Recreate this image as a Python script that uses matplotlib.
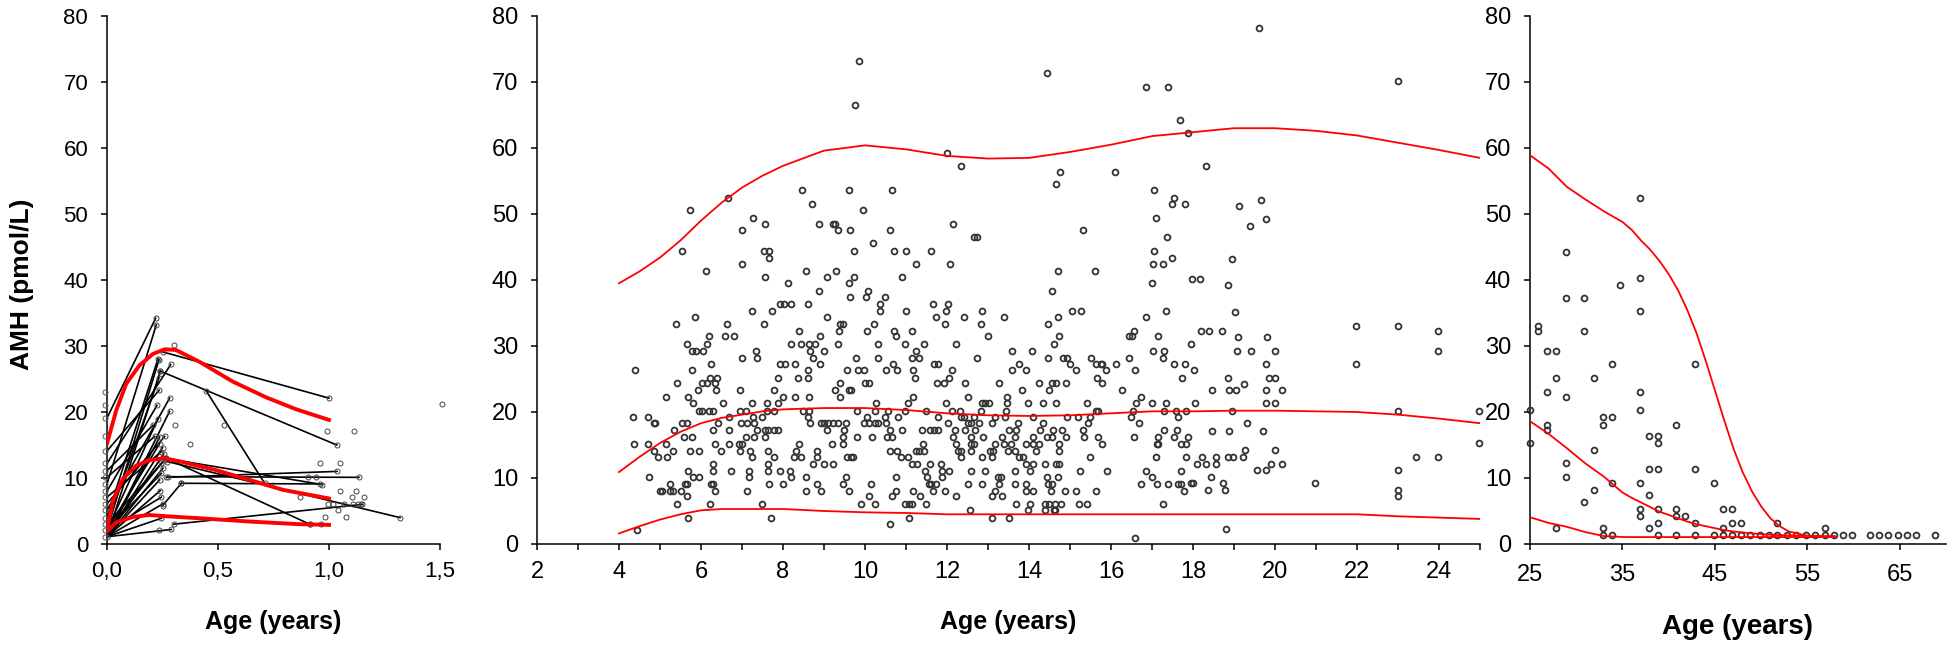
import matplotlib
matplotlib.use("Agg")
import matplotlib.pyplot as plt
from matplotlib import font_manager
from matplotlib.ticker import MultipleLocator, FixedLocator, FixedFormatter

# ---------------- data ----------------
# left panel: infants (0-1.5 y)
infant_col_amh = [1.1, 2.1, 3.0, 4.0, 5.1, 6.1, 7.1, 8.0, 9.1, 10.1, 11.1, 12.2,
                  14.1, 16.3, 19.1, 21.1, 23.1]

fan_y0 = [19.1, 9.1, 4.0, 2.1, 12.2, 1.1, 3.0, 5.1, 1.1, 11.1, 2.1, 10.1, 1.1, 6.1,
          2.1, 7.1, 1.1, 3.0, 1.1, 2.1, 1.1, 1.1, 2.1, 1.1, 1.1, 8.0, 14.1, 1.1, 2.1]
fan_x1 = [0.219, 0.222, 0.23, 0.234, 0.287, 0.24, 0.234, 0.282, 0.282, 0.207, 0.23,
          0.215, 0.237, 0.26, 0.237, 0.245, 0.255, 0.245, 0.252, 0.245, 0.237, 0.24,
          0.245, 0.252, 0.245, 0.225, 0.235, 0.25, 0.26]
fan_y1 = [34.2, 33.2, 28.1, 27.9, 27.2, 26.2, 25.2, 22.1, 20.1, 18.0, 19.0, 16.3, 16.2,
          16.3, 15.2, 14.0, 13.6, 12.2, 11.5, 10.7, 9.7, 8.1, 7.1, 6.1, 3.9, 21.0, 23.3,
          14.6, 12.8]

long_x0 = [0.252, 0.24, 0.447, 0.267, 0.27, 0.26, 0.275, 0.267, 0.335, 0.30, 0.25, 0.0]
long_y0 = [29.1, 26.2, 23.2, 13.0, 12.5, 13.0, 10.2, 10.1, 9.2, 3.0, 5.8, 1.1]
long_x1 = [1.0, 1.035, 0.71, 0.913, 1.32, 0.97, 1.135, 1.036, 0.958, 1.15, 0.335, 0.29]
long_y1 = [22.1, 15.0, 9.2, 3.0, 4.0, 9.0, 10.1, 11.0, 9.1, 6.0, 9.2, 2.2]

infant_age = [0.30, 0.305, 0.372, 0.525, 0.992, 1.113, 0.958, 1.05, 0.905, 0.943, 1.048,
              1.123, 0.868, 1.105, 1.158, 0.996, 1.018, 1.068, 1.108, 1.13, 1.146, 1.04,
              0.982, 1.078, 0.913, 0.962, 1.51, 0.234]
infant_amh = [30.2, 18.0, 15.1, 18.0, 17.1, 17.1, 12.2, 12.2, 10.2, 10.2, 8.1, 8.1, 7.1,
              7.1, 7.1, 6.1, 6.1, 6.1, 6.1, 6.1, 6.1, 5.2, 4.1, 4.1, 3.1, 3.1, 21.2, 2.1]

infant_curve_age = [0.0, 0.042, 0.087, 0.147, 0.207, 0.26, 0.31, 0.417, 0.567, 0.718, 0.853, 1.0]
infant_hi = [15.2, 20.3, 24.3, 27.1, 28.8, 29.5, 29.4, 27.6, 24.6, 22.2, 20.4, 18.8]
infant_mid_age = [0.0, 0.027, 0.072, 0.132, 0.192, 0.26, 0.342, 0.49, 0.643, 0.793, 1.0]
infant_mid = [2.1, 6.6, 9.9, 11.9, 12.7, 13.0, 12.4, 11.2, 9.7, 8.2, 6.9]
infant_lo_age = [0.0, 0.042, 0.117, 0.19, 0.267, 0.417, 0.643, 0.868, 1.0]
infant_lo = [1.9, 3.3, 4.1, 4.4, 4.2, 3.9, 3.4, 3.0, 2.9]

# middle panel: children (2-25 y), one AMH level per row with the ages at that level
child_levels = [78.2, 73.2, 71.3, 70.2, 69.3, 66.5, 64.2, 62.2, 59.3, 57.2, 56.3, 54.5,
                53.6, 52.5, 52.1, 51.5, 51.2, 50.6, 49.4, 49.2, 48.5, 48.2, 47.6, 46.5,
                45.6, 44.4, 43.4, 43.2, 42.5, 41.4, 40.4, 40.2, 39.5, 39.3, 38.4, 37.4,
                36.3, 35.3, 35.2, 34.4, 33.3, 33.1, 32.3, 31.5, 31.3, 30.3, 29.3, 29.2,
                28.2, 27.3, 27.2, 26.4, 26.3, 25.2, 24.4, 24.3, 23.3, 22.2, 21.3, 20.2,
                20.1, 19.2, 18.3, 17.2, 17.1, 16.2, 15.3, 15.2, 14.2, 14.1, 13.2, 12.1,
                11.2, 11.1, 10.2, 9.2, 9.1, 8.2, 8.1, 7.3, 7.2, 6.1, 5.1, 4.0, 3.1, 2.3,
                2.1, 0.9]
child_ages = [
    [19.60], [9.85], [14.45], [22.99], [16.85, 17.4], [9.75], [17.68], [17.88], [12.0],
    [12.35, 18.32], [14.75, 16.1], [14.67],
    [8.46, 9.60, 10.65, 17.06], [6.66, 17.54], [19.67], [8.70, 17.50, 17.80], [19.13],
    [5.72, 9.94], [7.27, 17.10], [19.78], [7.57, 8.87, 9.23, 9.26, 12.15], [19.38],
    [6.99, 9.34, 9.64, 10.61, 15.31], [12.65, 12.73, 17.37], [10.20],
    [5.54, 7.53, 7.67, 9.73, 10.71, 11.0, 11.61, 17.06], [7.67, 17.50], [18.96],
    [6.99, 11.24, 12.08, 17.02, 17.27], [6.12, 8.57, 9.30, 14.71, 15.61],
    [7.57, 9.07, 9.73, 10.90], [17.98, 18.16], [8.12, 9.60, 16.99], [18.86],
    [8.87, 10.08, 14.57], [9.64, 10.03, 10.48],
    [7.92, 8.02, 8.19, 8.60, 10.36, 11.65, 12.02],
    [7.24, 7.74, 10.37, 11.0, 11.98, 12.85, 15.04, 15.28, 17.33], [19.03],
    [5.85, 9.07, 11.72, 12.42, 13.38, 14.71, 16.85],
    [5.38, 6.63, 7.54, 9.40, 9.47, 10.21, 11.95, 12.82, 14.46], [21.97, 22.99],
    [8.40, 9.37, 10.04, 10.71, 11.15, 16.55, 23.97, 18.19, 18.38, 18.71],
    [6.19, 6.59, 6.80, 8.90, 10.75, 12.99, 14.73, 16.45, 16.51, 17.15], [19.10, 19.81],
    [5.65, 6.15, 8.19, 8.43, 8.63, 8.79, 9.34, 10.31, 10.98, 11.44, 12.22, 14.60, 17.94],
    [5.78, 5.89, 6.05, 7.33, 8.66, 9.0, 11.24, 13.59, 14.07, 17.02, 17.30],
    [19.07, 19.42, 19.99, 23.97],
    [6.99, 7.37, 8.74, 9.77, 10.31, 11.15, 11.31, 12.72, 14.46, 14.84, 14.93, 15.51,
     16.45, 17.26],
    [6.25, 7.92, 8.06, 8.29, 8.90, 10.68, 11.68, 11.78, 13.76, 15.01, 15.64, 15.75,
     15.78, 16.11, 17.53, 17.80],
    [19.78, 21.97],
    [4.40, 5.78, 8.60, 9.57, 9.84, 9.98, 10.51, 10.78, 11.18, 12.11, 13.59, 13.93, 15.14,
     15.88, 16.59],
    [18.02],
    [6.22, 6.39, 7.87, 8.36, 8.60, 11.21, 12.05, 15.67, 17.73, 18.86, 19.86, 19.99],
    [5.41, 6.02, 6.15, 6.33, 9.40, 10.0, 10.10, 11.75, 11.92, 12.45, 13.28, 14.24, 14.56,
     14.67, 14.90, 15.78],
    [19.24],
    [5.92, 6.36, 6.96, 7.77, 9.26, 9.60, 9.67, 13.83, 14.50, 16.28, 18.46, 18.89, 19.04,
     19.78, 20.18],
    [5.14, 5.68, 8.0, 8.29, 8.63, 9.40, 11.18, 12.52, 13.46, 16.72],
    [5.81, 6.53, 7.24, 7.60, 7.88, 10.28, 11.05, 11.98, 12.85, 12.92, 13.02, 13.46, 13.97,
     14.33, 14.67, 15.41, 16.62, 16.99, 17.33, 18.06, 19.78, 19.99],
    [5.95, 6.02, 6.19, 6.29, 6.96, 7.10, 7.60, 7.77, 8.49, 8.63, 9.81, 10.24, 10.57,
     10.98, 11.48, 12.11, 12.32, 12.82, 13.44, 15.64, 15.68, 16.53, 17.30, 17.59, 17.84],
    [18.96, 22.99, 24.97],
    [4.33, 4.71, 6.69, 7.27, 7.50, 8.60, 10.04, 10.50, 10.81, 11.78, 12.34, 12.42, 12.66,
     13.18, 13.42, 14.10, 14.93, 15.20, 15.48, 16.49, 17.63],
    [4.85, 4.89, 5.54, 5.65, 6.42, 6.97, 7.13, 7.30, 8.66, 8.93, 9.0, 9.10, 9.23, 9.34,
     9.54, 9.98, 10.10, 10.24, 10.31, 10.51, 12.02, 12.52, 12.59, 12.79, 13.09, 13.72,
     14.33, 15.45, 16.69, 19.31],
    [5.35, 6.29, 6.69, 7.37, 7.57, 7.63, 7.77, 7.87, 9.07, 9.50, 10.61, 10.91, 11.38,
     11.58, 11.68, 11.78, 12.19, 12.45, 12.68, 13.52, 13.69, 14.27, 14.58, 14.81, 15.31,
     17.30, 17.60],
    [18.46, 18.89, 19.70],
    [5.58, 5.78, 7.10, 7.30, 7.57, 9.47, 9.81, 10.17, 10.54, 10.65, 12.15, 12.58, 12.89,
     13.35, 13.66, 14.10, 14.44, 14.57, 14.90, 15.34, 15.68, 16.55, 17.15, 17.54, 17.87],
    [24.97],
    [4.37, 4.71, 5.15, 6.33, 6.69, 6.93, 7.0, 8.40, 9.20, 9.47, 11.41, 12.22, 12.58,
     12.65, 13.18, 13.38, 13.55, 13.93, 14.10, 14.24, 14.73, 15.78, 17.13, 17.15, 17.70,
     17.83],
    [19.28, 19.99],
    [4.85, 5.31, 5.72, 5.95, 6.49, 6.96, 7.20, 7.63, 8.32, 8.83, 10.61, 10.78, 11.24,
     11.31, 11.44, 12.28, 12.34, 12.58, 13.06, 13.13, 13.49, 13.66, 14.16, 14.73],
    [4.94, 5.18, 7.24, 7.77, 8.26, 8.43, 8.83, 9.57, 9.67, 9.70, 10.88, 11.05, 12.34,
     12.86, 13.09, 13.76, 13.86, 15.48, 17.10, 17.84, 18.23, 18.56, 18.86, 18.97, 19.21,
     23.43, 23.97],
    [6.29, 7.63, 8.74, 9.0, 9.23, 11.15, 11.27, 11.58, 11.85, 13.93, 14.10, 14.40, 14.67,
     14.73, 18.10, 18.32, 18.56, 19.91, 20.18],
    [19.56, 19.78, 22.99],
    [5.68, 6.29, 6.72, 7.16, 7.63, 7.92, 8.16, 11.46, 11.88, 12.05, 12.58, 12.92, 13.66,
     14.02, 15.24, 15.91, 16.85, 17.70],
    [4.74, 5.81, 5.95, 7.16, 8.19, 8.57, 9.54, 10.75, 11.52, 11.88, 13.25, 13.31, 14.44,
     14.70, 16.99, 18.43],
    [17.94, 18.0, 18.74, 20.97],
    [5.24, 5.62, 5.65, 6.25, 6.29, 7.67, 7.99, 8.83, 9.47, 10.14, 11.55, 11.62, 11.72,
     12.52, 12.85, 13.28, 13.66, 13.93, 14.46, 14.57, 16.72, 17.13, 17.40, 17.63, 17.70],
    [18.36, 18.78, 22.99],
    [5.0, 5.05, 5.24, 5.31, 5.51, 6.33, 7.13, 8.57, 8.93, 9.60, 10.75, 11.18, 11.65,
     11.95, 13.18, 13.93, 14.10, 14.53, 14.88, 15.14, 15.64, 17.77],
    [22.99],
    [5.65, 10.10, 10.65, 11.34, 12.22, 13.09, 13.35],
    [5.41, 6.22, 7.50, 9.90, 10.24, 10.98, 11.08, 11.15, 11.48, 13.69, 14.03, 14.40,
     14.50, 14.64, 14.77, 15.21, 15.41, 17.27],
    [12.55, 13.97, 14.40, 14.60, 14.64],
    [5.68, 7.71, 11.08, 13.09, 13.52],
    [10.61],
    [18.80],
    [4.44],
    [16.59],
]

child_curve_age = [4, 4.5, 5, 5.5, 6, 6.5, 7, 7.5, 8, 9, 10, 11, 12, 13, 14, 15, 16, 17,
                   18, 19, 20, 21, 22, 23, 24, 25]
child_hi = [39.5, 41.3, 43.4, 46.0, 49.0, 51.7, 54.0, 55.8, 57.3, 59.6, 60.4, 59.8, 58.8,
            58.4, 58.5, 59.4, 60.5, 61.8, 62.4, 63.0, 63.0, 62.6, 61.9, 60.8, 59.7, 58.5]
child_mid = [10.9, 13.2, 15.3, 17.0, 18.3, 19.1, 19.6, 20.1, 20.4, 20.6, 20.6, 20.3, 19.8,
             19.5, 19.4, 19.5, 19.8, 20.1, 20.1, 20.2, 20.2, 20.1, 20.0, 19.6, 19.0, 18.3]
child_lo = [1.6, 2.7, 3.7, 4.5, 5.1, 5.3, 5.3, 5.3, 5.3, 5.0, 4.8, 4.7, 4.5, 4.5, 4.5, 4.5,
            4.5, 4.5, 4.5, 4.5, 4.5, 4.5, 4.5, 4.2, 4.0, 3.8]

# right panel: adults (25-70 y)
adult_levels = [52.4, 44.2, 40.3, 39.2, 37.3, 35.3, 33.1, 32.3, 29.2, 27.3, 25.2, 23.1,
                22.3, 20.3, 19.2, 18.1, 17.3, 16.3, 15.3, 14.2, 12.3, 11.3, 10.2, 9.2,
                8.2, 7.4, 6.3, 5.3, 4.2, 3.2, 2.4, 1.3]
adult_ages = [
    [36.88], [28.93], [36.88], [34.76], [28.93, 30.89], [36.88], [25.90], [25.90, 30.89],
    [26.80, 27.86], [33.91, 42.88], [27.86, 31.90], [26.80, 36.88], [28.93],
    [24.95, 36.88], [32.85, 33.91], [32.85, 40.81, 26.80], [26.80], [37.84, 38.90],
    [38.90, 24.95], [31.90], [28.93], [37.84, 38.90, 42.88], [28.93],
    [33.91, 36.88, 44.89], [31.90], [37.84], [30.89],
    [36.88, 38.90, 40.81, 45.90, 46.80], [36.88, 40.81, 41.82],
    [38.90, 42.88, 46.80, 47.86, 51.74], [27.86, 32.85, 37.84, 45.90, 56.88],
    [32.85, 33.91, 38.90, 40.81, 42.88, 44.89, 45.90, 46.80, 47.86, 48.82, 49.88, 50.84,
     51.74, 52.80, 53.81, 54.81, 55.87, 56.88, 57.89, 58.89, 59.85, 61.81, 62.71, 63.77,
     64.78, 65.73, 66.74, 68.77],
]

adult_curve_age = [25, 27, 29, 31, 33, 35, 36, 37, 38, 39, 40, 41, 42, 43, 44, 45, 46, 47,
                   48, 49, 50, 51, 52, 53, 55, 57, 58]
adult_hi = [58.9, 56.9, 54.1, 52.2, 50.4, 48.8, 47.6, 46.0, 44.6, 42.9, 40.9, 38.5, 35.5,
            32.0, 27.8, 23.3, 18.8, 14.5, 10.9, 8.0, 5.7, 3.9, 2.7, 1.9, 1.25, 1.1, 1.1]
adult_mid = [18.6, 16.7, 14.5, 12.2, 10.2, 7.8, 7.0, 6.3, 5.6, 4.9, 4.4, 3.9, 3.4, 3.0,
             2.7, 2.4, 2.1, 1.9, 1.75, 1.6, 1.5, 1.4, 1.35, 1.3, 1.25, 1.2, 1.2]
adult_lo = [4.05, 3.2, 2.6, 1.8, 1.2, 1.06, 1.05, 1.05, 1.05, 1.05, 1.05, 1.05, 1.05,
            1.05, 1.05, 1.05, 1.05, 1.05, 1.05, 1.05, 1.05, 1.05, 1.05, 1.05, 1.05, 1.05,
            1.05]

# ---------------- style ----------------
available = {f.name for f in font_manager.fontManager.ttflist}
REG = "Liberation Sans" if "Liberation Sans" in available else "DejaVu Sans"
NARROW = "Liberation Sans Narrow" if "Liberation Sans Narrow" in available else REG

plt.rcParams["font.family"] = [REG, "DejaVu Sans"]
plt.rcParams["axes.linewidth"] = 1.1

W, H = 1949, 651
fig = plt.figure(figsize=(W / 100, H / 100), dpi=100)


def px_axes(x0, x1, top=16, bottom=544):
    return fig.add_axes([x0 / W, (H - bottom) / H, (x1 - x0) / W, (bottom - top) / H])


def style_axes(ax, font, size):
    for side in ("top", "right"):
        ax.spines[side].set_visible(False)
    ax.set_ylim(0, 80)
    ax.yaxis.set_major_locator(MultipleLocator(10))
    ax.tick_params(which="both", direction="out", length=4.5, width=1.1, colors="black",
                   labelsize=size)
    ax.tick_params(axis="y", pad=9)
    for lab in ax.get_xticklabels() + ax.get_yticklabels():
        lab.set_family([font, "DejaVu Sans"])


def flat(levels, ages):
    xs, ys = [], []
    for lv, row in zip(levels, ages):
        xs += row
        ys += [lv] * len(row)
    return xs, ys


mk = dict(ls="none", marker="o", mfc="none")

# ---- left panel ----
ax1 = px_axes(107, 440)
for y0, x1, y1 in zip(fan_y0, fan_x1, fan_y1):
    ax1.plot([0.0, x1], [y0, y1], color="black", lw=1.2, zorder=2)
for x0, y0, x1, y1 in zip(long_x0, long_y0, long_x1, long_y1):
    ax1.plot([x0, x1], [y0, y1], color="black", lw=1.2, zorder=2)
ax1.plot(fan_x1, fan_y1, ms=3.6, mew=0.7, mec="#444444", **mk, zorder=3)
ax1.plot(long_x0 + long_x1, long_y0 + long_y1, ms=3.6, mew=0.7, mec="#444444", **mk,
         zorder=3)
ax1.plot(infant_age, infant_amh, ms=3.6, mew=0.7, mec="#444444", **mk, zorder=3,
         clip_on=False)
ax1.plot([-0.007] * len(infant_col_amh), infant_col_amh, ms=3.6, mew=0.7, mec="#555555",
         **mk, zorder=3, clip_on=False)
ax1.plot(infant_curve_age, infant_hi, color="#ff0000", lw=2.8, zorder=4)
ax1.plot(infant_mid_age, infant_mid, color="#ff0000", lw=2.8, zorder=4)
ax1.plot(infant_lo_age, infant_lo, color="#ff0000", lw=2.8, zorder=4)
ax1.set_xlim(0, 1.5)
ax1.xaxis.set_major_locator(FixedLocator([0, 0.5, 1.0, 1.5]))
ax1.xaxis.set_major_formatter(FixedFormatter(["0,0", "0,5", "1,0", "1,5"]))
style_axes(ax1, REG, 16)
ax1.tick_params(axis="x", pad=8)

# ---- middle panel ----
ax2 = px_axes(537, 1480)
cx, cy = flat(child_levels, child_ages)
ax2.plot(cx, cy, ms=4.2, mew=1.3, mec="#333333", **mk, zorder=3, clip_on=False)
for curve in (child_hi, child_mid, child_lo):
    ax2.plot(child_curve_age, curve, color="#ff0000", lw=1.3, zorder=4)
ax2.set_xlim(2, 25)
ax2.xaxis.set_major_locator(MultipleLocator(2))
ax2.xaxis.set_minor_locator(MultipleLocator(1))
style_axes(ax2, NARROW, 17)
ax2.tick_params(axis="x", pad=8)

# ---- right panel ----
ax3 = px_axes(1530, 1946)
axx, axy = flat(adult_levels, adult_ages)
ax3.plot(axx, axy, ms=4.2, mew=1.3, mec="#333333", **mk, zorder=3, clip_on=False)
for curve in (adult_hi, adult_mid, adult_lo):
    ax3.plot(adult_curve_age, curve, color="#ff0000", lw=1.3, zorder=4)
ax3.set_xlim(25, 70)
ax3.xaxis.set_major_locator(FixedLocator([25, 35, 45, 55, 65]))
style_axes(ax3, NARROW, 17)
ax3.tick_params(axis="x", pad=10)

# ---- axis titles ----
fig.text(273 / W, 1 - 622 / H, "Age (years)", ha="center", va="center",
         fontsize=18, fontweight="bold", family=[REG, "DejaVu Sans"])
fig.text(1008 / W, 1 - 622 / H, "Age (years)", ha="center", va="center",
         fontsize=18, fontweight="bold", family=[REG, "DejaVu Sans"])
fig.text(1738 / W, 1 - 627 / H, "Age (years)", ha="center", va="center",
         fontsize=20, fontweight="bold", family=[NARROW, "DejaVu Sans"])
fig.text(22 / W, 1 - 284 / H, "AMH (pmol/L)", ha="center", va="center", rotation=90,
         fontsize=19, fontweight="bold", family=[REG, "DejaVu Sans"])

fig.savefig("out.png", dpi=100)
